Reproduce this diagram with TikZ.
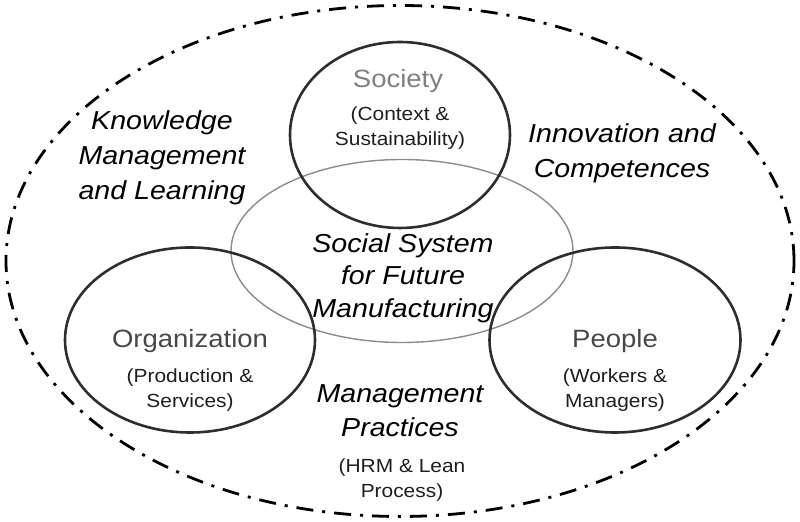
\documentclass[tikz,border=0pt]{standalone}
\usepackage{fontspec}
\setmainfont{Liberation Sans}[FakeStretch=1.1]
\usepackage{tikz}
\usetikzlibrary{positioning}
\usetikzlibrary{shapes.geometric}
\definecolor{ringgray}{HTML}{2E2E2E}
\definecolor{coregray}{HTML}{8C8C8C}
\definecolor{headgray}{HTML}{474747}
\definecolor{softgray}{HTML}{808080}
\definecolor{subgray}{HTML}{1E1E1E}
\tikzstyle{ring} = [draw=ringgray, ellipse, line width=1.3pt, inner sep=0pt]
\tikzstyle{core} = [draw=coregray, ellipse, line width=0.7pt, inner sep=0pt]
\tikzstyle{boundary} = [draw, ellipse, line width=1.4pt, inner sep=0pt, dash pattern=on 8.5pt off 4.5pt on 1.5pt off 4.5pt]
\tikzstyle{theme} = [align=center, inner sep=0pt, font=\itshape\fontsize{13}{17.5}\selectfont]
\tikzstyle{headline} = [inner sep=0pt, text=headgray, font=\fontsize{12.5}{15}\selectfont]
\tikzstyle{detail} = [align=center, inner sep=0pt, text=subgray, font=\fontsize{9.5}{12.5}\selectfont]

\begin{document}
\begin{tikzpicture}[x=0.5pt,y=-0.5pt]
    \useasboundingbox (0,0) rectangle (800,522);
    % rings
    \node [boundary, minimum width=394pt, minimum height=255.5pt] (world) at (400,261) {};
    \node [core, minimum width=171pt, minimum height=91.5pt] (system) at (402,251) {};
    \node [ring, minimum width=110pt, minimum height=93pt] (society) at (400,135) {};
    \node [ring, minimum width=125pt, minimum height=92.5pt] (organization) at (190,340) {};
    \node [ring, minimum width=125.5pt, minimum height=92.5pt] (people) at (615,340) {};

    % ring texts
    \node [headline, text=softgray] (societyname) at (398,81.5) {Society};
    \node [detail] (societysub) at (400,128.5) {(Context \&\\Sustainability)};
    \node [headline] (orgname) at (190,341) {Organization};
    \node [detail] (orgsub) at (190,390) {(Production \&\\Services)};
    \node [headline] (peoplename) at (615,341) {People};
    \node [detail] (peoplesub) at (615,390.5) {(Workers \&\\Managers)};

    % themes
    \node [theme] (knowledge) at (162,158) {Knowledge\\Management\\and Learning};
    \node [theme] (innovation) at (622,153.5) {Innovation and\\Competences};
    \node [theme, font=\itshape\fontsize{13}{16.25}\selectfont] (social) at (403,278) {Social System\\for Future\\Manufacturing};
    \node [theme, font=\itshape\fontsize{13}{17}\selectfont] (practices) at (400,410.5) {Management\\Practices};
    \node [detail] (practicessub) at (402,480) {(HRM \& Lean\\Process)};
\end{tikzpicture}
\end{document}
